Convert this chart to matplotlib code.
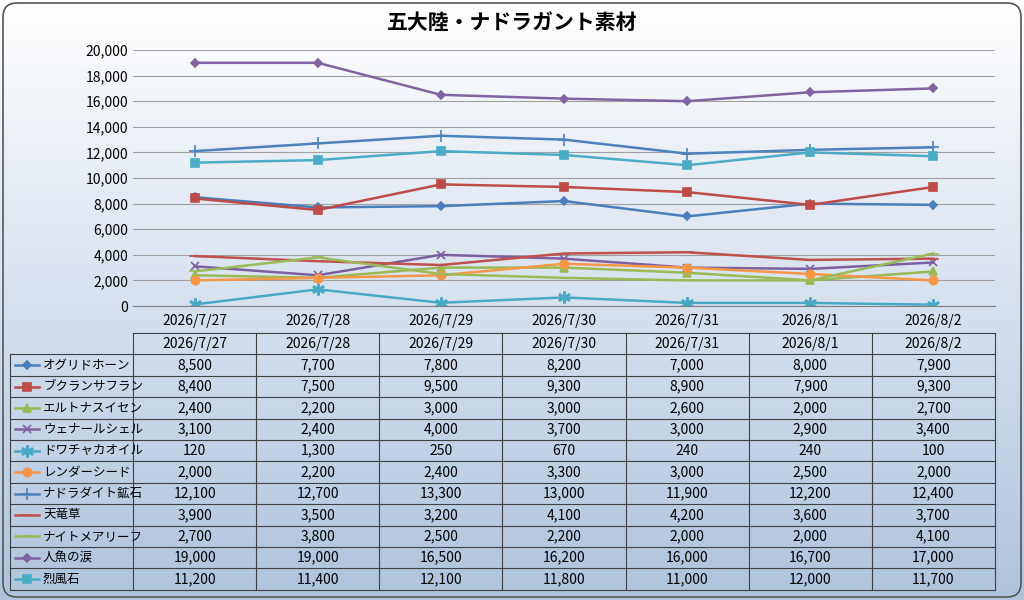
import numpy as np
import matplotlib.pyplot as plt
from matplotlib.patches import FancyBboxPatch
from matplotlib.ticker import FuncFormatter

plt.rcParams['font.family'] = ['Noto Sans CJK JP', 'DejaVu Sans']

dates = ['2026/7/27', '2026/7/28', '2026/7/29', '2026/7/30', '2026/7/31', '2026/8/1', '2026/8/2']
names = ['オグリドホーン', 'ブクランサフラン', 'エルトナスイセン', 'ウェナールシェル', 'ドワチャカオイル',
         'レンダーシード', 'ナドラダイト鉱石', '天竜草', 'ナイトメアリーフ', '人魚の涙', '烈風石']
values = [
    [8500, 7700, 7800, 8200, 7000, 8000, 7900],
    [8400, 7500, 9500, 9300, 8900, 7900, 9300],
    [2400, 2200, 3000, 3000, 2600, 2000, 2700],
    [3100, 2400, 4000, 3700, 3000, 2900, 3400],
    [120, 1300, 250, 670, 240, 240, 100],
    [2000, 2200, 2400, 3300, 3000, 2500, 2000],
    [12100, 12700, 13300, 13000, 11900, 12200, 12400],
    [3900, 3500, 3200, 4100, 4200, 3600, 3700],
    [2700, 3800, 2500, 2200, 2000, 2000, 4100],
    [19000, 19000, 16500, 16200, 16000, 16700, 17000],
    [11200, 11400, 12100, 11800, 11000, 12000, 11700],
]
colors = ['#4A7EBB', '#BE4B48', '#98B954', '#7D60A0', '#46AAC5', '#F79646',
          '#4F81BD', '#C0504D', '#9BBB59', '#8064A2', '#4BACC6']
markers = ['D', 's', '^', 'x', '$*$', 'o', '+', '_', '_', 'D', 's']
msizes = [4.5, 6, 6, 6, 8, 6, 8, 8, 8, 4.5, 6]

W, H = 1024, 600
fig = plt.figure(figsize=(W / 100, H / 100), dpi=100)

# background
bg = fig.add_axes([0, 0, 1, 1])
bg.set_xlim(0, W)
bg.set_ylim(H, 0)
bg.axis('off')
grad = np.linspace(0, 1, 256).reshape(-1, 1)
cmap = plt.matplotlib.colors.LinearSegmentedColormap.from_list('g', ['#FFFFFF', '#AFC3DE'])
bg.imshow(grad, extent=[0, W, H, 0], cmap=cmap, aspect='auto', zorder=0)
bg.add_patch(FancyBboxPatch((3, 3), W - 6, H - 6, boxstyle='round,pad=0,rounding_size=14',
                            fc='none', ec='#555555', lw=1.2, zorder=1))
bg.text(512, 22, '五大陸・ナドラガント素材', ha='center', va='center', fontsize=15, fontweight='bold')

# chart
L, R, T, B = 133, 995, 50, 306
ax = fig.add_axes([L / W, 1 - B / H, (R - L) / W, (B - T) / H])
ax.patch.set_alpha(0)
x = np.arange(len(dates))
for v, c, m, s in zip(values, colors, markers, msizes):
    ax.plot(x, v, color=c, lw=1.8, marker=m, ms=s, mec=c, mfc=c, mew=1.2)
ax.set_xlim(-0.5, len(dates) - 0.5)
ax.set_ylim(0, 20000)
ax.set_yticks(range(0, 20001, 2000))
ax.yaxis.set_major_formatter(FuncFormatter(lambda v, p: f'{int(v):,}'))
ax.set_xticks(x)
ax.set_xticklabels(dates, fontsize=10)
ax.tick_params(axis='y', labelsize=10, length=0)
ax.tick_params(axis='x', length=0, pad=6)
ax.grid(axis='y', color='#A0A0A0', lw=0.8)
ax.set_axisbelow(True)
for sp in ['top', 'right', 'left']:
    ax.spines[sp].set_visible(False)
ax.spines['bottom'].set_color('#808080')

# data table
top, rh = 333, 21.4
colw = (R - L) / len(dates)
nrows = len(names) + 1
for i in range(nrows + 1):
    y = top + i * rh
    x0 = L if i == 0 else 10
    bg.plot([x0, R], [y, y], color='#404040', lw=0.8, zorder=3)
bg.plot([10, 10], [top + rh, top + nrows * rh], color='#404040', lw=0.8, zorder=3)
for j in range(len(dates) + 1):
    xx = L + j * colw
    bg.plot([xx, xx], [top, top + nrows * rh], color='#404040', lw=0.8, zorder=3)
for j, d in enumerate(dates):
    bg.text(L + (j + 0.5) * colw, top + rh / 2, d, ha='center', va='center', fontsize=10, zorder=4)
for i, (n, v, c, m, s) in enumerate(zip(names, values, colors, markers, msizes)):
    yc = top + (i + 1.5) * rh
    bg.plot([15, 39], [yc, yc], color=c, lw=1.8, zorder=4)
    bg.plot([27], [yc], marker=m, ms=s, color=c, mec=c, mew=1.2, zorder=5)
    bg.text(43, yc, n, ha='left', va='center', fontsize=9, zorder=4)
    for j, val in enumerate(v):
        bg.text(L + (j + 0.5) * colw, yc, f'{val:,}', ha='center', va='center', fontsize=10, zorder=4)

fig.savefig('out.png', dpi=100)
